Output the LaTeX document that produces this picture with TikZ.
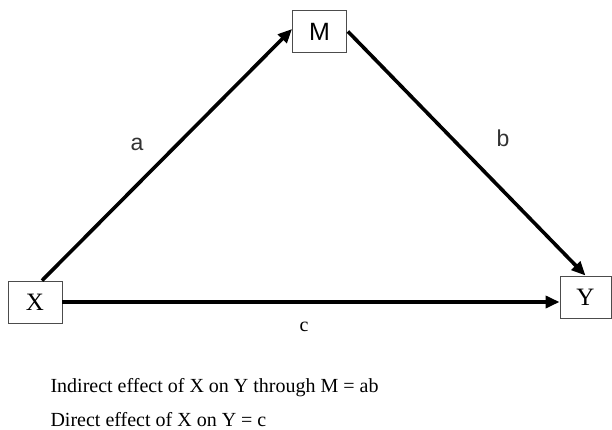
\documentclass[tikz,border=0pt]{standalone}
\usepackage{fontspec}
\setmainfont{Liberation Serif}
\setsansfont{Liberation Sans}
\usetikzlibrary{arrows.meta, positioning, calc}

\begin{document}
\begin{tikzpicture}[x=1pt, y=-1pt,
  var/.style={draw=black!70, line width=0.9pt, minimum width=54pt,
              minimum height=42pt, inner sep=0pt, font=\fontsize{25}{30}\selectfont},
  effect/.style={line width=3.6pt, -{Triangle[length=14pt, width=12pt]}},
  coef/.style={font=\sffamily\fontsize{23}{28}\selectfont, text=black!80}]
  \useasboundingbox (0,0) rectangle (612,430);
  % Mediation model: X -> M -> Y and X -> Y
  \node[var, font=\sffamily\fontsize{25}{30}\selectfont] (M) at (319.5,31.5) {M};
  \node[var] (X) at (35,302) {X};
  \node[var, minimum width=51pt] (Y) at (585.5,297) {Y};
  \draw[effect] ([xshift=7pt]X.north) -- ([yshift=2.5pt]M.west);
  \draw[effect] ([xshift=1pt]M.east) -- (Y.north);
  \draw[effect] ([yshift=0pt]X.east) -- (X.east -| Y.west);
  % path labels
  \node[coef] (a) at (137,144) {a};
  \node[coef] (b) at (503,138) {b};
  \node[font=\fontsize{20}{24}\selectfont] (c) at (304,327) {c};
  % summary of the effects
  \node[anchor=west, font=\fontsize{20}{24}\selectfont] (ind) at (47,388)
    {Indirect effect of X on Y through M = ab};
  \node[anchor=west, font=\fontsize{20}{24}\selectfont] (dir) at (47,420)
    {Direct effect of X on Y = c};
\end{tikzpicture}
\end{document}
